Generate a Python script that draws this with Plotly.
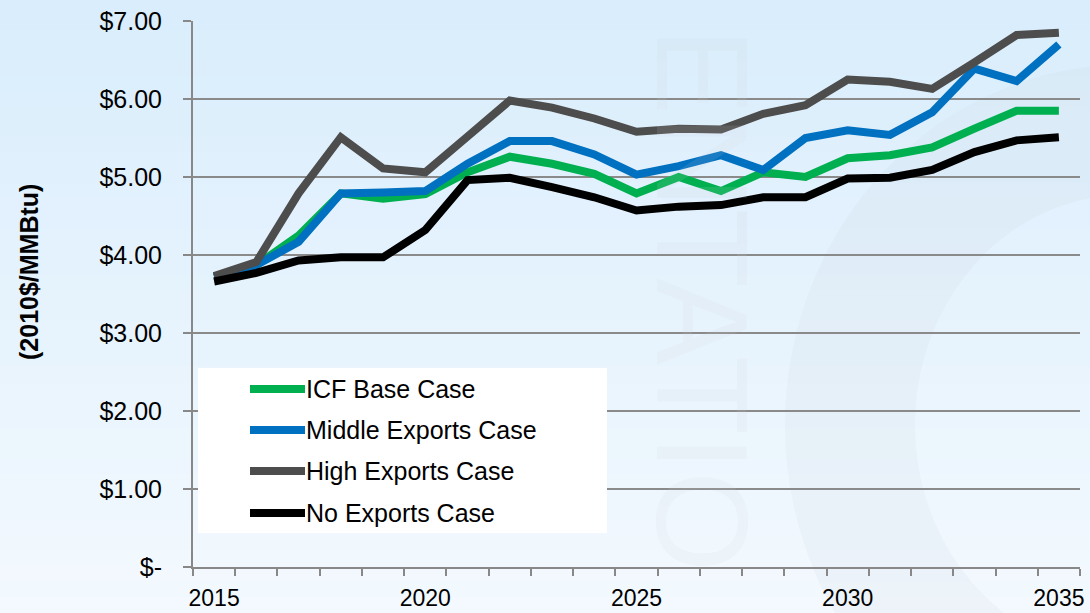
import plotly.graph_objects as go

# --- data (2010$/MMBtu) ---
years = list(range(2015, 2036))
series_names = ["ICF Base Case", "Middle Exports Case", "High Exports Case", "No Exports Case"]
icf_base = [3.72, 3.87, 4.25, 4.79, 4.72, 4.78, 5.06, 5.26, 5.17, 5.04, 4.79,
            5.00, 4.82, 5.06, 5.00, 5.24, 5.28, 5.38, 5.62, 5.85, 5.85]
middle_exports = [3.72, 3.87, 4.17, 4.79, 4.80, 4.82, 5.17, 5.46, 5.46, 5.29, 5.03,
                  5.14, 5.28, 5.09, 5.50, 5.60, 5.54, 5.83, 6.39, 6.23, 6.70]
high_exports = [3.73, 3.91, 4.79, 5.51, 5.11, 5.06, 5.52, 5.98, 5.89, 5.75, 5.58,
                5.62, 5.61, 5.81, 5.92, 6.25, 6.22, 6.13, 6.47, 6.82, 6.85]
no_exports = [3.66, 3.77, 3.93, 3.97, 3.97, 4.32, 4.96, 4.99, 4.87, 4.74, 4.57,
              4.62, 4.64, 4.74, 4.74, 4.98, 4.99, 5.09, 5.32, 5.47, 5.51]
y_ticks = [0, 1, 2, 3, 4, 5, 6, 7]
y_tick_labels = ["$-", "$1.00", "$2.00", "$3.00", "$4.00", "$5.00", "$6.00", "$7.00"]
x_ticks = [2015, 2020, 2025, 2030, 2035]

colors = ["#00b050", "#0070c0", "#4d4d4d", "#000000"]
FONT = "Liberation Sans, Arial, sans-serif"

W, H = 1090, 613
M = dict(l=193, r=10, t=21, b=46)
PW = W - M["l"] - M["r"]
PH = H - M["t"] - M["b"]


def px(x):
    return (x - M["l"]) / PW


def py(y):
    return (H - M["b"] - y) / PH


fig = go.Figure()

for name, vals, col in zip(series_names, [icf_base, middle_exports, high_exports, no_exports], colors):
    fig.add_trace(go.Scatter(
        x=years, y=vals, mode="lines", name=name,
        line=dict(color=col, width=8),
        showlegend=False,
    ))

shapes = []

# background gradient (light blue, darker on top)
top = (217, 237, 252)
bot = (243, 249, 254)
n = 40
for i in range(n):
    t = i / (n - 1)
    c = tuple(round(top[k] + (bot[k] - top[k]) * t) for k in range(3))
    shapes.append(dict(
        type="rect", xref="paper", yref="paper", layer="below",
        x0=px(-5), x1=px(W + 5),
        y0=py(H * (i + 1) / n + 1), y1=py(H * i / n - 1),
        line=dict(width=0), fillcolor="rgb(%d,%d,%d)" % c,
    ))

# faint watermark arc
shapes.append(dict(
    type="circle", xref="paper", yref="paper", layer="below",
    x0=px(850), x1=px(1400), y0=py(720), y1=py(130),
    line=dict(color="rgba(200,205,215,0.12)", width=130),
    fillcolor="rgba(0,0,0,0)",
))

# legend box
shapes.append(dict(
    type="rect", xref="paper", yref="paper",
    x0=px(198), x1=px(607), y0=py(533), y1=py(368),
    line=dict(width=0), fillcolor="white", layer="above",
))
annotations = []
leg_y = [389, 430, 471, 513]
for name, col, yy in zip(series_names, colors, leg_y):
    shapes.append(dict(
        type="line", xref="paper", yref="paper", layer="above",
        x0=px(250), x1=px(305), y0=py(yy), y1=py(yy),
        line=dict(color=col, width=8),
    ))
    annotations.append(dict(
        xref="paper", yref="paper", x=px(304), y=py(yy),
        xanchor="left", yanchor="middle", showarrow=False,
        text=name, font=dict(family=FONT, size=25, color="black"),
    ))

# watermark letters
annotations.append(dict(
    xref="paper", yref="paper", x=px(702), y=py(300),
    text="ENTATIO", textangle=90, showarrow=False,
    font=dict(family=FONT, size=130, color="rgba(205,210,218,0.13)"),
))

# y-axis title
annotations.append(dict(
    xref="paper", yref="paper", x=px(29), y=py(272),
    text="<b>(2010$/MMBtu)</b>", textangle=-90, showarrow=False,
    xanchor="center", yanchor="middle",
    font=dict(family=FONT, size=25, color="black"),
))

fig.update_layout(
    width=W, height=H,
    margin=M,
    paper_bgcolor="rgb(235,245,253)",
    plot_bgcolor="rgba(0,0,0,0)",
    shapes=shapes,
    annotations=annotations,
    xaxis=dict(
        range=[2014.5, 2035.5], automargin=False,
        tickvals=x_ticks, ticktext=[str(v) for v in x_ticks],
        ticks="", showgrid=False, zeroline=False,
        showline=True, linecolor="#888888", linewidth=2,
        tickfont=dict(family=FONT, size=23, color="black"),
        ticklabelstandoff=9,
        minor=dict(tick0=2014.5, dtick=1, ticks="outside", ticklen=7,
                   tickcolor="#888888", tickwidth=2, showgrid=False),
    ),
    yaxis=dict(
        range=[0, 7], automargin=False,
        tickvals=y_ticks, ticktext=y_tick_labels,
        ticks="outside", ticklen=8, tickcolor="#888888", tickwidth=2,
        showgrid=True, gridcolor="#8a8a8a", gridwidth=2,
        zeroline=False, showline=True, linecolor="#888888", linewidth=2,
        tickfont=dict(family=FONT, size=25, color="black"),
        ticklabelstandoff=16,
    ),
)

# the page is exactly the figure size: drop the default body margin
fig.write_html(
    "out.html",
    config={"displayModeBar": False},
    post_script="document.body.style.margin='0';document.body.style.overflow='hidden';",
)
